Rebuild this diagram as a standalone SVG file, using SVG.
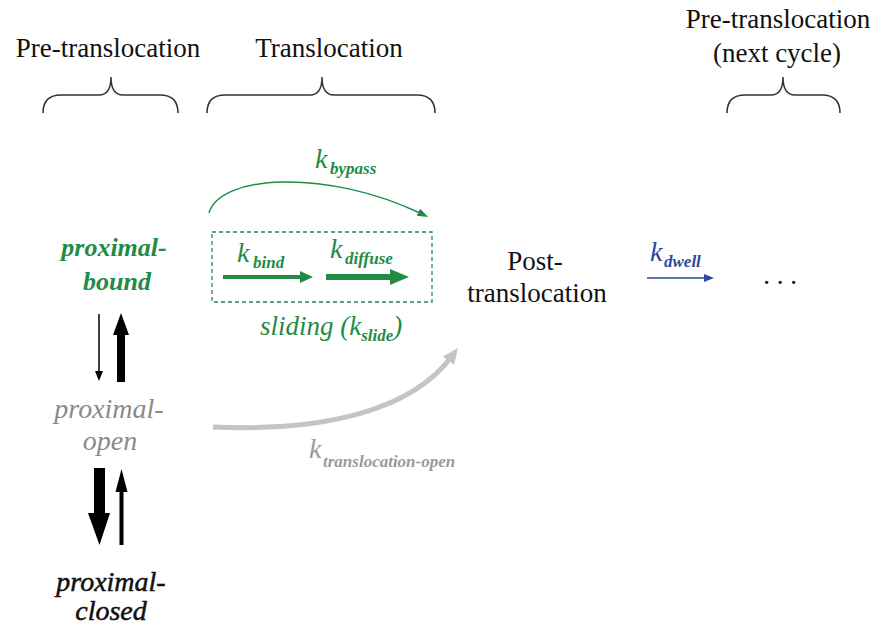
<svg xmlns="http://www.w3.org/2000/svg" width="874" height="627" viewBox="0 0 874 627" font-family="'Liberation Serif', 'DejaVu Serif', 'Times New Roman', serif">
<style>
text, tspan { font-family: 'Liberation Serif', 'DejaVu Serif', 'Times New Roman', serif; }
.hdr{font-size:27px;fill:#111;}
.brace{fill:none;stroke:#333;stroke-width:1.5;}
.grn{fill:#228b45;}
.sub{font-weight:bold;font-style:italic;font-size:17px;}
.k{font-style:italic;font-size:28px;}
</style>
<defs>
<marker id="mGreen" markerUnits="userSpaceOnUse" markerWidth="12" markerHeight="9" refX="3" refY="4" orient="auto">
<path d="M0,0 L11,4 L0,8 z" fill="#228b45"/>
</marker>
<marker id="mGray" markerUnits="userSpaceOnUse" markerWidth="17" markerHeight="15" refX="6" refY="7" orient="auto">
<path d="M0,0 L16,7 L0,14 z" fill="#c4c4c4"/>
</marker>
</defs>

<g id="headers">
<text class="hdr" x="108" y="57" text-anchor="middle">Pre-translocation</text>
<text class="hdr" x="329" y="57" text-anchor="middle">Translocation</text>
<text class="hdr" x="778" y="28" text-anchor="middle">Pre-translocation</text>
<text class="hdr" x="777" y="62" text-anchor="middle">(next cycle)</text>
<path class="brace" d="M43,113 Q43,95 61,95 L99,95 Q111,95 111,77 Q111,95 123,95 L160,95 Q178,95 178,113"/>
<path class="brace" d="M207,113 Q207,95 225,95 L310,95 Q322,95 322,77 Q322,95 334,95 L417,95 Q435,95 435,113"/>
<path class="brace" d="M727,113 Q727,95 745,95 L771,95 Q783,95 783,77 Q783,95 795,95 L822,95 Q840,95 840,113"/>
</g>

<g id="proximal-bound">
<text x="114" y="256" text-anchor="middle" font-size="26" font-weight="bold" font-style="italic" class="grn">proximal-</text>
<text x="117" y="290" text-anchor="middle" font-size="26" font-weight="bold" font-style="italic" class="grn">bound</text>
</g>

<g id="proximal-open">
<text x="109" y="418" text-anchor="middle" font-size="28" font-style="italic" fill="#8a8a8a">proximal-</text>
<text x="110" y="450" text-anchor="middle" font-size="28" font-style="italic" fill="#8a8a8a">open</text>
</g>

<g id="proximal-closed">
<text x="111" y="591" text-anchor="middle" font-size="28" font-style="italic" fill="#111" stroke="#111" stroke-width="0.5">proximal-</text>
<text x="111" y="620" text-anchor="middle" font-size="28" font-style="italic" fill="#111" stroke="#111" stroke-width="0.5">closed</text>
</g>

<g id="sliding">
<rect x="212" y="232" width="220" height="70" fill="none" stroke="#228b45" stroke-width="1.3" stroke-dasharray="4,3"/>
<text x="260" y="335" class="grn" font-size="27" font-style="italic">sliding (k<tspan class="sub" dy="6">slide</tspan><tspan dy="-6">)</tspan></text>
</g>

<g id="post-translocation">
<text class="hdr" x="535" y="270" text-anchor="middle">Post-</text>
<text class="hdr" x="537" y="302" text-anchor="middle">translocation</text>
</g>

<g id="next-cycle">
<text class="hdr" x="780" y="284" text-anchor="middle">. . .</text>
</g>

<g id="connectors">
<line x1="99" y1="314" x2="99" y2="372" stroke="#000" stroke-width="1.5"/>
<polygon points="95,371 103,371 99,381" fill="#000"/>
<polygon points="117,382 117,335 113,335 121,313 129,335 125,335 125,382" fill="#000"/>
<polygon points="94,468 105,468 105,513 110,513 99.5,545 88,513 94,513" fill="#000"/>
<polygon points="119.5,545 119.5,492 115.5,492 121.5,469 127.5,492 123.5,492 123.5,545" fill="#000"/>
<path d="M209,213 C220,175 325,168 421,213.5" fill="none" stroke="#228b45" stroke-width="1.5" marker-end="url(#mGreen)"/>
<text x="315" y="168" class="grn"><tspan class="k">k</tspan><tspan class="sub" x="330" y="174">bypass</tspan></text>
<polygon points="223,275 300,275 300,271 313,277 300,283 300,279 223,279" fill="#228b45"/>
<polygon points="326,274 390,274 390,269 409,277 390,285 390,280 326,280" fill="#228b45"/>
<text x="237" y="262" class="grn"><tspan class="k">k</tspan><tspan class="sub" x="253" y="268">bind</tspan></text>
<text x="330" y="258" class="grn"><tspan class="k">k</tspan><tspan class="sub" x="345" y="264">diffuse</tspan></text>
<path d="M213,427 C330,432 414,408 452,356" fill="none" stroke="#c4c4c4" stroke-width="5" marker-end="url(#mGray)"/>
<text x="309" y="458" fill="#9a9a9a"><tspan class="k" font-size="30">k</tspan><tspan class="sub" x="323" y="467" font-size="18">translocation-open</tspan></text>
<line x1="647" y1="278" x2="705" y2="278" stroke="#2b4a9b" stroke-width="1.5"/>
<polygon points="704,274 714,278 704,282" fill="#2b4a9b"/>
<text x="650" y="261" fill="#2b4a9b"><tspan class="k">k</tspan><tspan class="sub" x="664" y="267">dwell</tspan></text>
</g>
</svg>
